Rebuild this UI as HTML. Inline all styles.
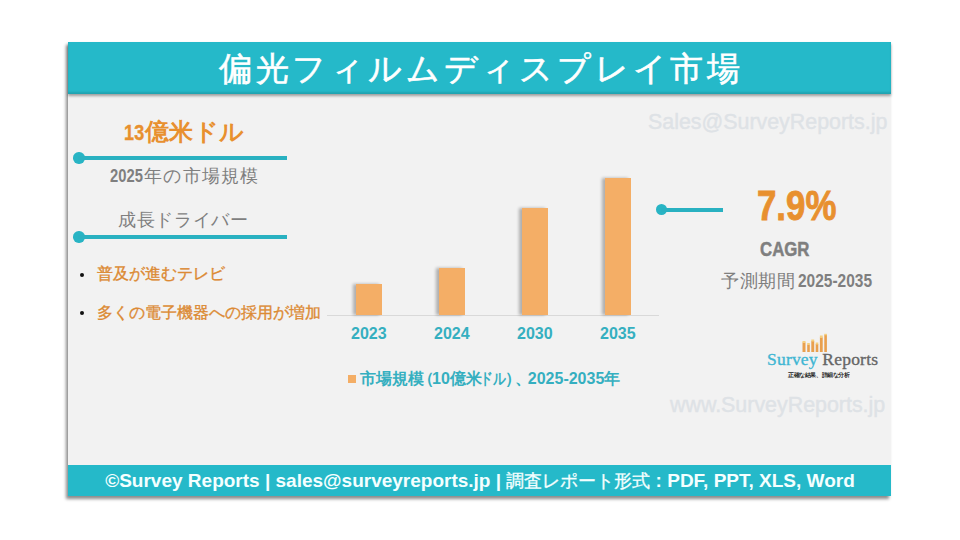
<!DOCTYPE html>
<html lang="ja">
<head>
<meta charset="utf-8">
<style>
*{margin:0;padding:0;box-sizing:border-box}
html,body{width:960px;height:540px;background:#ffffff;overflow:hidden;position:relative;font-family:"Liberation Sans",sans-serif}
.abs{position:absolute;white-space:nowrap}
#card{position:absolute;left:68px;top:42px;width:823px;height:454px;background:#f2f2f2;box-shadow:-2px 3px 3px rgba(0,0,0,0.45)}
#hdr{position:absolute;left:68px;top:42px;width:823px;height:51.5px;background:#25b9c9;box-shadow:0 1.5px 2.5px rgba(0,0,0,0.35), inset 0 -2px 2px rgba(0,0,0,0.12)}
#ftr{position:absolute;left:68px;top:465px;width:823px;height:31px;background:#25b9c9}
.title{left:68px;width:823px;top:43px;height:52px;line-height:52px;text-align:center;color:#fff;font-size:33px;letter-spacing:3.8px;text-indent:3.8px;-webkit-text-stroke:0.6px #fff}
.orange{color:#e8902f}
.gray{color:#7f7f7f}
.teal{color:#35afc0}
.line{position:absolute;height:3.8px;background:#29b1c1}
.dot{position:absolute;width:11.4px;height:11.4px;border-radius:50%;background:#28b4c4}
.bar{position:absolute;background:#f4ae66;box-shadow:-3px 0 3px rgba(0,0,0,0.28)}
.yr{font-weight:bold;font-size:16px;line-height:16px;color:#35afc0}
.cd{display:inline-block;transform-origin:0 0}
.wm{color:#dee2e6;font-size:21.4px;line-height:21px;-webkit-text-stroke:0.4px #dee2e6}
</style>
</head>
<body>
<div id="card"></div>
<div id="hdr"></div>
<div class="abs title">偏光フィルムディスプレイ市場</div>

<!-- left column -->
<div class="abs orange" style="left:124px;top:119px;font-size:23.5px;line-height:26px;font-weight:bold;letter-spacing:0.3px"><span class="cd" style="width:21px;font-size:22.5px;transform:scaleX(.8);-webkit-text-stroke:0.4px #e8902f">13</span>億米ドル</div>
<div class="dot" style="left:73.2px;top:152.2px"></div>
<div class="line" style="left:78px;top:156px;width:209px"></div>
<div class="abs gray" style="left:110px;top:165px;font-size:18px;line-height:22px;letter-spacing:1.3px"><b class="cd" style="width:34px;transform:scaleX(.82);letter-spacing:0">2025</b>年の市場規模</div>
<div class="abs gray" style="left:118px;top:209px;font-size:18px;line-height:22px;letter-spacing:0.7px">成長ドライバー</div>
<div class="dot" style="left:73.2px;top:231.2px"></div>
<div class="line" style="left:78px;top:235px;width:209px"></div>

<div class="abs" style="left:80px;top:272.7px;width:4px;height:4px;border-radius:50%;background:#111"></div>
<div class="abs" style="left:97px;top:264px;font-size:16px;line-height:20px;color:#dc8a34;-webkit-text-stroke:0.35px #dc8a34">普及が進むテレビ</div>
<div class="abs" style="left:80px;top:311px;width:4px;height:4px;border-radius:50%;background:#111"></div>
<div class="abs" style="left:97px;top:303px;font-size:16px;line-height:20px;color:#dc8a34;-webkit-text-stroke:0.35px #dc8a34">多くの電子機器への採用が増加</div>

<!-- chart -->
<div class="abs" style="left:327px;top:315px;width:332px;height:1px;background:#d9d9d9"></div>
<div class="bar" style="left:356px;top:284px;width:26px;height:31px"></div>
<div class="bar" style="left:439px;top:268px;width:26px;height:47px"></div>
<div class="bar" style="left:522px;top:208px;width:26px;height:107px"></div>
<div class="bar" style="left:605px;top:178px;width:26px;height:137px"></div>
<div class="abs yr" style="left:351px;top:326px">2023</div>
<div class="abs yr" style="left:434px;top:326px">2024</div>
<div class="abs yr" style="left:517px;top:326px">2030</div>
<div class="abs yr" style="left:600px;top:326px">2035</div>
<div class="abs" style="left:348px;top:375px;width:8px;height:8px;background:#f4ae66"></div>
<div class="abs teal" style="left:360px;top:369px;font-size:16px;line-height:20px;font-weight:bold">市場規模<span style="margin-left:-6px;margin-right:-2px">（</span>10億米<span class="cd" style="width:25px;margin-left:-2px;transform:scaleX(.8)">ドル</span><span style="margin-right:-6px">）</span><span style="margin-right:-3px">、</span>2025-2035年</div>

<!-- watermarks -->
<div class="abs wm" style="left:648px;top:112px">Sales@SurveyReports.jp</div>
<div class="abs wm" style="left:670px;top:395px">www.SurveyReports.jp</div>

<!-- right -->
<div class="dot" style="left:656px;top:204px"></div>
<div class="line" style="left:661px;top:208px;width:62px"></div>
<div class="abs orange" style="left:757px;top:184px;font-size:43px;line-height:43px;font-weight:bold;transform:scaleX(0.81);transform-origin:0 0;-webkit-text-stroke:0.9px #e8902f">7.9%</div>
<div class="abs gray" style="left:760px;top:238px;font-size:21px;line-height:21px;font-weight:bold;transform:scaleX(0.8);transform-origin:0 0;-webkit-text-stroke:0.5px #7f7f7f">CAGR</div>
<div class="abs gray" style="left:721px;top:270px;font-size:18px;line-height:22px;letter-spacing:0.7px">予測期間 <b class="cd" style="width:74px;margin-left:-3.5px;transform:scaleX(.86);letter-spacing:0">2025-2035</b></div>

<!-- logo -->
<svg class="abs" style="left:800px;top:332px" width="30" height="22" viewBox="0 0 30 22">
<g fill="#e9a04e">
<rect x="2.5" y="10.5" width="3" height="9.5"/>
<rect x="7.2" y="12.6" width="2.6" height="7.4"/>
<rect x="11.3" y="9" width="2.9" height="11"/>
<rect x="15.7" y="12" width="2.6" height="8"/>
<rect x="19.9" y="5.3" width="2.8" height="14.7"/>
<rect x="24.3" y="2.7" width="2.6" height="17.3"/>
</g>
<g fill="#f6cf7e">
<rect x="2.5" y="9" width="3" height="2"/>
<rect x="7.2" y="11" width="2.6" height="2"/>
<rect x="11.3" y="7.5" width="2.9" height="2"/>
<rect x="15.7" y="10.5" width="2.6" height="2"/>
<rect x="19.9" y="3.5" width="2.8" height="2.3"/>
<rect x="24.3" y="1.8" width="2.6" height="1.5"/>
</g>
</svg>
<div class="abs" style="left:767px;top:349px;font-family:'Liberation Serif',serif;font-size:17.5px;line-height:20px;letter-spacing:0.2px;-webkit-text-stroke:0.35px"><span style="color:#3fb6d3">Survey</span> <span style="color:#666;-webkit-text-stroke-color:#666">Reports</span></div>
<div class="abs cd" style="left:788px;top:372.5px;font-size:10px;line-height:10px;color:#222;font-weight:bold;transform:scale(.56)">正確な結果、詳細な分析</div>

<!-- footer -->
<div id="ftr"></div>
<div class="abs" style="left:68px;width:823px;top:465px;height:31px;line-height:31px;text-align:center;color:#f4ffff;font-size:19px;text-indent:1px;font-weight:bold">©Survey Reports | sales@surveyreports.jp | <span style="font-weight:normal;font-size:18.3px;-webkit-text-stroke:0.3px #f4ffff">調査レポート形式</span> : PDF, PPT, XLS, Word</div>
</body>
</html>
